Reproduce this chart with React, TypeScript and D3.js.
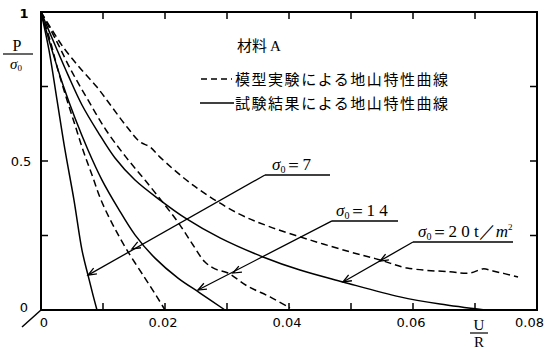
import React from "react";
import * as d3 from "d3";

const S7x = [0, 0.00129, 0.00258, 0.00387, 0.00532, 0.00661, 0.00758, 0.00839, 0.00903];
const S7y = [1, 0.872, 0.705, 0.537, 0.369, 0.201, 0.117, 0.05, 0];
const D7x = [0, 0.00145, 0.00274, 0.00419, 0.00548, 0.00677, 0.00823, 0.00968, 0.01161, 0.01387, 0.01677, 0.01871, 0.02];
const D7y = [1, 0.906, 0.805, 0.705, 0.621, 0.537, 0.453, 0.369, 0.285, 0.201, 0.107, 0.044, 0];
const S14x = [0, 0.00177, 0.00355, 0.00548, 0.00758, 0.00984, 0.01242, 0.01516, 0.01839, 0.0221, 0.02565, 0.02968];
const S14y = [1, 0.872, 0.755, 0.644, 0.537, 0.436, 0.342, 0.252, 0.174, 0.107, 0.057, 0];
const D14x = [0, 0.00242, 0.00484, 0.00758, 0.01048, 0.01371, 0.01677, 0.02, 0.02242, 0.02452, 0.02645, 0.02806, 0.03016, 0.03323, 0.03694, 0.04016];
const D14y = [1, 0.906, 0.805, 0.705, 0.604, 0.513, 0.436, 0.352, 0.285, 0.218, 0.161, 0.138, 0.124, 0.081, 0.044, 0.007];
const S20x = [0, 0.00226, 0.00435, 0.00661, 0.00919, 0.01194, 0.01516, 0.01919, 0.02323, 0.02887, 0.03581, 0.04177, 0.04871, 0.0579, 0.06435, 0.07161];
const S20y = [1, 0.889, 0.789, 0.688, 0.597, 0.51, 0.436, 0.369, 0.309, 0.242, 0.178, 0.134, 0.094, 0.044, 0.02, 0];
const D20x = [0, 0.00177, 0.00355, 0.00629, 0.00903, 0.01145, 0.01387, 0.01597, 0.01758, 0.01919, 0.02452, 0.03161, 0.03694, 0.04339, 0.04984, 0.05468, 0.05903, 0.06597, 0.06919, 0.07129, 0.0729, 0.07694];
const D20y = [1, 0.94, 0.883, 0.812, 0.748, 0.681, 0.614, 0.564, 0.547, 0.513, 0.419, 0.326, 0.279, 0.235, 0.195, 0.168, 0.141, 0.128, 0.124, 0.138, 0.131, 0.111];

const xTickLabels = ["0.02", "0.04", "0.06"];
const xTickValues = [0.02, 0.04, 0.06];
const xMinorTicks = [0.01, 0.02, 0.03, 0.04, 0.05, 0.06, 0.07];
const yTickValues = [0.25, 0.5, 0.75];

const leaders = [
  { from: [0.03613, 0.453], to: [[0.01468, 0.205], [0.00758, 0.117]] },
  { from: [0.04694, 0.299], to: [[0.03097, 0.124], [0.02532, 0.067]] },
  { from: [0.06, 0.228], to: [[0.05468, 0.164], [0.04871, 0.094]] },
];

const W = 545, H = 352;
const x = d3.scaleLinear().domain([0, 0.08]).range([41, 537]);
const y = d3.scaleLinear().domain([0, 1]).range([310, 12]);

function zip(xs: number[], ys: number[]): [number, number][] {
  return xs.map((v, i) => [v, ys[i]]);
}
const line = d3
  .line<[number, number]>()
  .x((d) => x(d[0]))
  .y((d) => y(d[1]))
  .curve(d3.curveCatmullRom.alpha(0.5));

const solid = [zip(S7x, S7y), zip(S14x, S14y), zip(S20x, S20y)];
const dashed = [zip(D7x, D7y), zip(D14x, D14y), zip(D20x, D20y)];

function Arrow({ x0, y0, x1, y1 }: { x0: number; y0: number; x1: number; y1: number }) {
  const a = Math.atan2(y1 - y0, x1 - x0);
  const L = 9, s = 0.38;
  const p1 = [x1 - L * Math.cos(a - s), y1 - L * Math.sin(a - s)];
  const p2 = [x1 - L * Math.cos(a + s), y1 - L * Math.sin(a + s)];
  return (
    <path d={`M${p1[0]},${p1[1]}L${x1},${y1}L${p2[0]},${p2[1]}`} fill="none" stroke="#000" strokeWidth={1.3} />
  );
}

const sigma = (n: string) => (
  <>
    <tspan fontStyle="italic">σ</tspan>
    <tspan fontSize={10} dy={3}>0</tspan>
    <tspan dy={-3}>{"＝" + n}</tspan>
  </>
);

export default function App() {
  const jp = "'Noto Sans CJK JP', sans-serif";
  const sans = "'DejaVu Sans', sans-serif";
  const serif = "'Liberation Serif', serif";
  return (
    <svg width={W} height={H} style={{ position: "absolute", left: 0, top: 0, background: "#fff" }}>
      <rect x={0} y={0} width={W} height={H} fill="#fff" />
      <rect x={x(0)} y={y(1)} width={x(0.08) - x(0)} height={y(0) - y(1)} fill="none" stroke="#000" strokeWidth={2} />
      <line x1={22} y1={327} x2={x(0)} y2={y(0)} stroke="#000" strokeWidth={1.5} />
      {xMinorTicks.map((t) => (
        <g key={"xt" + t}>
          <line x1={x(t)} x2={x(t)} y1={y(0)} y2={y(0) - 7} stroke="#000" strokeWidth={1.5} />
          <line x1={x(t)} x2={x(t)} y1={y(1)} y2={y(1) + 7} stroke="#000" strokeWidth={1.5} />
        </g>
      ))}
      {yTickValues.map((t) => (
        <g key={"yt" + t}>
          <line x1={x(0)} x2={x(0) + 7} y1={y(t)} y2={y(t)} stroke="#000" strokeWidth={1.5} />
          <line x1={x(0.08)} x2={x(0.08) - 7} y1={y(t)} y2={y(t)} stroke="#000" strokeWidth={1.5} />
        </g>
      ))}
      {xTickValues.map((t, i) => (
        <text key={"xl" + t} x={x(t) - 2} y={327} fontSize={13} fontFamily={sans} textAnchor="middle">
          {xTickLabels[i]}
        </text>
      ))}
      <text x={515} y={327} fontSize={13} fontFamily={sans}>0.08</text>
      <text x={44} y={327} fontSize={13} fontFamily={sans} textAnchor="middle">0</text>
      <text x={24} y={312} fontSize={13} fontFamily={sans} textAnchor="middle">0</text>
      <text x={21} y={166} fontSize={13} fontFamily={sans} textAnchor="middle">0.5</text>
      <text x={24} y={18} fontSize={13} fontFamily={sans} fontWeight="bold" textAnchor="middle">1</text>
      <text x={17} y={51} fontSize={16} fontFamily={serif} textAnchor="middle">P</text>
      <line x1={3} x2={33} y1={54} y2={54} stroke="#000" strokeWidth={1.2} />
      <text x={16} y={69} fontSize={15} fontFamily={serif} textAnchor="middle">
        <tspan fontStyle="italic">σ</tspan>
        <tspan fontSize={9} dy={2}>0</tspan>
      </text>
      <text x={479} y={330} fontSize={15} fontFamily={serif} textAnchor="middle">U</text>
      <line x1={470} x2={488} y1={333} y2={333} stroke="#000" strokeWidth={1.2} />
      <text x={479} y={347} fontSize={15} fontFamily={serif} textAnchor="middle">R</text>
      {solid.map((d, i) => (
        <path key={"s" + i} d={line(d) || ""} fill="none" stroke="#000" strokeWidth={1.5} />
      ))}
      {dashed.map((d, i) => (
        <path key={"d" + i} d={line(d) || ""} fill="none" stroke="#000" strokeWidth={1.5} strokeDasharray="7,4" />
      ))}
      <text x={237} y={51} fontSize={15} fontFamily={jp}>
        材料<tspan fontFamily={serif} dx={3}>A</tspan>
      </text>
      <line x1={201} x2={232} y1={79} y2={79} stroke="#000" strokeWidth={1.5} strokeDasharray="6,4" />
      <text x={235} y={85} fontSize={15} fontFamily={jp} textLength={213} lengthAdjust="spacing">模型実験による地山特性曲線</text>
      <line x1={200} x2={234} y1={103} y2={103} stroke="#000" strokeWidth={1.5} />
      <text x={235} y={109} fontSize={15} fontFamily={jp} textLength={213} lengthAdjust="spacing">試験結果による地山特性曲線</text>
      {leaders.map((l, i) => {
        const fx = x(l.from[0]), fy = y(l.from[1]);
        const end = l.to[l.to.length - 1];
        const ex = x(end[0]), ey = y(end[1]);
        return (
          <g key={"ld" + i}>
            <line x1={fx} y1={fy} x2={ex} y2={ey} stroke="#000" strokeWidth={1.3} />
            {l.to.map((p, j) => (
              <Arrow key={j} x0={fx} y0={fy} x1={x(p[0])} y1={y(p[1])} />
            ))}
          </g>
        );
      })}
      <line x1={265} x2={330} y1={175} y2={175} stroke="#000" strokeWidth={1.5} />
      <text x={272} y={170} fontSize={17} fontFamily={serif}>{sigma("7")}</text>
      <line x1={332} x2={398} y1={221} y2={221} stroke="#000" strokeWidth={1.5} />
      <text x={336} y={216} fontSize={17} fontFamily={serif}>{sigma("1 4")}</text>
      <line x1={413} x2={513} y1={242} y2={242} stroke="#000" strokeWidth={1.5} />
      <text x={418} y={237} fontSize={17} fontFamily={serif}>
        {sigma("2 0 t／")}
        <tspan fontStyle="italic">m</tspan>
        <tspan fontSize={9} dy={-7}>2</tspan>
      </text>
    </svg>
  );
}
